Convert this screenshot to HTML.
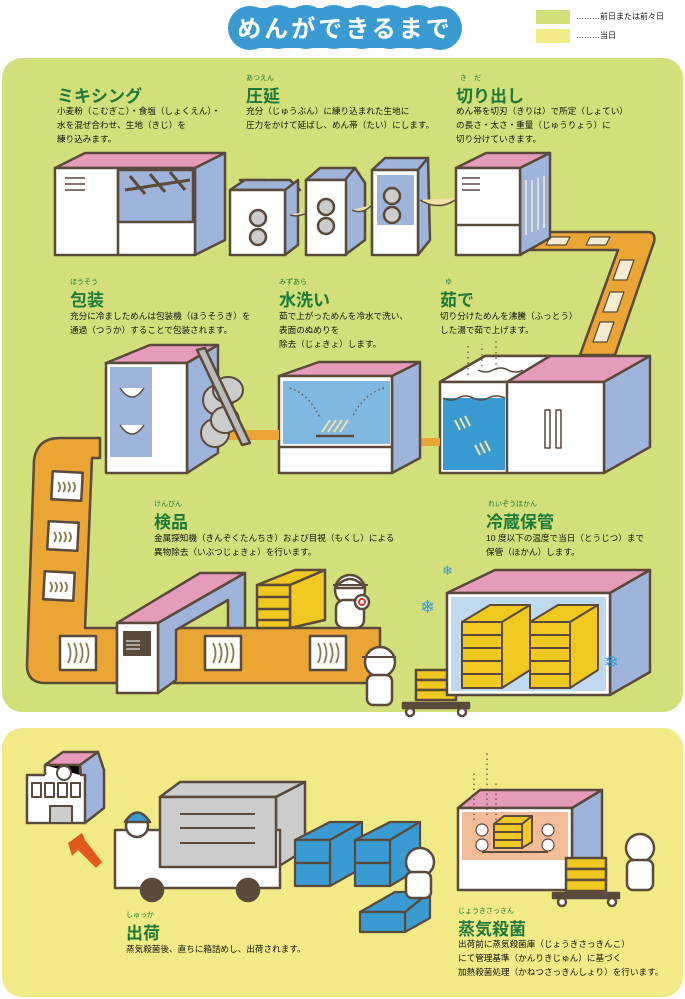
<!DOCTYPE html>
<html><head><meta charset="utf-8">
<style>
html,body{margin:0;padding:0;background:#fff;}
body{width:685px;height:999px;overflow:hidden;position:relative;font-family:"Liberation Sans","Noto Sans CJK JP",sans-serif;}
svg{position:absolute;left:0;top:0;}
.t{position:absolute;color:#111;font-size:8.6px;line-height:14px;white-space:nowrap;font-family:"Liberation Sans","Noto Sans CJK JP",sans-serif;}
.h{position:absolute;color:#1f7a3a;font-weight:bold;font-size:17px;white-space:nowrap;font-family:"Liberation Sans","Noto Sans CJK JP",sans-serif;}
.r{position:absolute;color:#1f7a3a;font-size:7px;white-space:nowrap;font-family:"Liberation Sans","Noto Sans CJK JP",sans-serif;}
</style></head><body>
<svg width="685" height="999" viewBox="0 0 685 999" xmlns="http://www.w3.org/2000/svg">
<g stroke="#5a4a3c" stroke-width="2.5" stroke-linejoin="round">
<rect x="2" y="58" width="681" height="654" rx="20" fill="#d3df7a" stroke="none"/>
<rect x="2" y="728" width="681" height="269" rx="20" fill="#f2ea86" stroke="none"/>
<g fill="#3a9bd2" stroke="none">
<circle cx="250" cy="28" r="22"/><circle cx="278" cy="27" r="22"/><circle cx="306" cy="27" r="22"/><circle cx="334" cy="27" r="22"/><circle cx="362" cy="27" r="22"/><circle cx="390" cy="27" r="22"/><circle cx="418" cy="27" r="22"/><circle cx="440" cy="28" r="22"/>
<rect x="250" y="8" width="190" height="40"/>
</g>
<text x="345" y="37" text-anchor="middle" fill="#fff" stroke="none" font-size="24" font-weight="bold" font-family="Liberation Sans, Noto Sans CJK JP, sans-serif" letter-spacing="3">めんができるまで</text>
<rect x="536" y="10" width="34" height="14" fill="#d3df7a" stroke="none"/>
<rect x="536" y="29" width="34" height="14" fill="#f2ea86" stroke="none"/>

<path d="M520 232 L648 232 Q656 232 654 242 L615 355 L580 355 L618 250 L520 250 Z" fill="#eaa535"/>
<g fill="#f4ecd2" stroke-width="1.2">
<path d="M550 237 l20 0 l-4 8 l-20 0z"/><path d="M590 237 l20 0 l-4 8 l-20 0z"/>
<path d="M620 260 l14 0 l-7 20 l-14 0z"/><path d="M610 292 l14 0 l-7 20 l-14 0z"/><path d="M600 322 l14 0 l-7 20 l-14 0z"/>
</g>

<path d="M55 168 L85 153 L225 153 L195 168 Z" fill="#e79bbb"/>
<path d="M195 168 L225 153 L225 240 L195 255 Z" fill="#9fb4db"/>
<rect x="55" y="168" width="140" height="87" fill="#fff"/>
<rect x="118" y="170" width="75" height="52" fill="#9fb4db"/>
<line x1="118" y1="168" x2="118" y2="255"/>
<line x1="65" y1="178" x2="85" y2="178" stroke-width="1.5"/><line x1="65" y1="184" x2="85" y2="184" stroke-width="1.5"/><line x1="65" y1="190" x2="85" y2="190" stroke-width="1.5"/>
<path d="M125 190 L190 180 M130 176 l15 18 M150 174 l15 18 M170 172 l15 18" stroke="#5a4a3c" fill="none" stroke-width="3"/>
<path d="M240 180 L265 180 L256 188 L250 188Z" fill="#ccc"/>
<path d="M230 190 L245 180 L290 180 L300 190Z" fill="#9fb4db"/>
<path d="M285 190 L298 180 L298 245 L285 255Z" fill="#9fb4db"/>
<rect x="230" y="190" width="55" height="65" fill="#fff"/>
<circle cx="258" cy="218" r="8" fill="#ccc"/><circle cx="258" cy="237" r="8" fill="#ccc"/>
<path d="M290 215 Q300 218 312 210" fill="#f4e0a8" stroke-width="1.5"/>
<path d="M306 180 L320 168 L355 168 L345 180Z" fill="#9fb4db"/>
<path d="M345 180 L355 168 L365 183 L365 240 L345 255Z" fill="#9fb4db"/>
<rect x="306" y="180" width="40" height="75" fill="#fff"/>
<circle cx="326" cy="207" r="8" fill="#ccc"/><circle cx="326" cy="226" r="8" fill="#ccc"/>
<path d="M352 210 Q362 215 372 205" fill="#f4e0a8" stroke-width="1.5"/>
<path d="M372 170 L385 158 L428 158 L418 170Z" fill="#9fb4db"/>
<path d="M418 170 L428 158 L430 240 L418 255Z" fill="#9fb4db"/>
<rect x="372" y="170" width="46" height="85" fill="#fff"/>
<rect x="377" y="175" width="37" height="50" fill="#9fb4db" stroke="none"/>
<circle cx="392" cy="196" r="8" fill="#ccc"/><circle cx="392" cy="215" r="8" fill="#ccc"/>
<path d="M420 200 Q440 212 458 198" fill="#f4e0a8" stroke-width="1.5"/>
<path d="M456 168 L486 153 L550 153 L520 168Z" fill="#e79bbb"/>
<path d="M520 168 L550 153 L550 238 L520 255Z" fill="#9fb4db"/>
<rect x="456" y="168" width="64" height="87" fill="#fff"/>
<line x1="462" y1="178" x2="480" y2="178" stroke-width="1.5"/><line x1="462" y1="184" x2="480" y2="184" stroke-width="1.5"/><line x1="462" y1="190" x2="480" y2="190" stroke-width="1.5"/>
<line x1="456" y1="225" x2="520" y2="225"/>
<g stroke="#f4ecd2" stroke-width="1.5"><line x1="526" y1="180" x2="526" y2="235"/><line x1="532" y1="180" x2="532" y2="232"/><line x1="538" y1="178" x2="538" y2="230"/><line x1="544" y1="176" x2="544" y2="228"/></g>

<path d="M440 382 L485 356 L650 356 L604 382Z" fill="#e79bbb"/>
<path d="M440 382 L485 356 L550 356 L507 382Z" fill="#fff"/>
<path d="M604 382 L650 356 L650 447 L604 473Z" fill="#9fb4db"/>
<rect x="440" y="382" width="164" height="91" fill="#fff"/>
<rect x="443" y="398" width="62" height="72" fill="#3a9bd2" stroke="none"/>
<path d="M443 398 q8 4 15 0 q8 -4 15 0 q8 4 15 0 q8 -4 17 0" fill="none" stroke-width="1.5"/>
<line x1="507" y1="382" x2="507" y2="473"/>
<rect x="545" y="410" width="5" height="38" fill="#fff" stroke-width="1.5"/><rect x="556" y="410" width="5" height="38" fill="#fff" stroke-width="1.5"/>
<g fill="none" stroke="#f4e0a8" stroke-width="2"><path d="M455 420 l5 10 M460 418 l5 10 M465 416 l5 10 M475 445 l5 10 M480 443 l5 10 M485 441 l5 10"/></g>
<path d="M478 370 q8 4 15 0 q8 -4 15 0 q8 4 15 0" fill="none" stroke-width="1.5"/>
<g fill="none" stroke-width="1.2" stroke-dasharray="1.5 4"><path d="M468 375 v-30"/><path d="M482 372 v-28"/><path d="M496 370 v-32"/></g>
<path d="M400 438 L440 438 L440 446 L396 446Z" fill="#eaa535" stroke="none"/>
<path d="M279 376 L319 362 L420 362 L392 376Z" fill="#e79bbb"/>
<path d="M392 376 L420 362 L420 458 L392 473Z" fill="#9fb4db"/>
<rect x="279" y="376" width="113" height="97" fill="#fff"/>
<rect x="283" y="381" width="107" height="63" fill="#7fb8e0" stroke="none"/>
<line x1="279" y1="447" x2="392" y2="447"/>
<line x1="316" y1="436" x2="354" y2="436"/>
<g fill="none" stroke-width="1.2" stroke-dasharray="1.5 3"><path d="M290 388 Q310 395 320 418"/><path d="M384 388 Q362 395 352 418"/></g>
<g fill="none" stroke="#f4e0a8" stroke-width="2"><path d="M322 432 l8 -12 M328 432 l8 -12 M334 432 l8 -12 M340 432 l8 -12"/></g>
<path d="M220 430 L279 430 L279 440 L220 440Z" fill="#eaa535" stroke="none"/>
<path d="M100 438 L60 438 Q37 438 34 460 L27 665 Q27 683 45 683 L380 683 L380 628 L85 628 L92 458 L100 458Z" fill="#eaa535"/>
<path d="M106 363 L150 345 L218 345 L187 363Z" fill="#e79bbb"/>
<path d="M187 363 L218 345 L218 453 L187 473Z" fill="#9fb4db"/>
<rect x="106" y="363" width="81" height="110" fill="#fff"/>
<rect x="110" y="367" width="42" height="90" fill="#9fb4db" stroke="none"/>
<path d="M120 388 q12 18 24 0 M120 425 q12 18 24 0" fill="#fff" stroke-width="1.5"/>
<g><ellipse cx="218" cy="400" rx="15" ry="15" fill="#ccc" stroke="#5a4a3c" stroke-width="2"/><ellipse cx="228" cy="390" rx="15" ry="13" fill="#ccc" stroke="#5a4a3c" stroke-width="2"/><ellipse cx="215" cy="433" rx="14" ry="14" fill="#ccc" stroke="#5a4a3c" stroke-width="2"/><ellipse cx="225" cy="420" rx="14" ry="13" fill="#ccc" stroke="#5a4a3c" stroke-width="2"/></g>
<path d="M197 350 L205 348 L250 443 L242 445Z" fill="#bbb"/>
<g fill="#fff" stroke-width="1.5"><rect x="52" y="445" width="22" height="10" transform="skewX(-20)"/></g>
<g fill="#fff" stroke-width="2.5">
<rect x="52" y="472" width="30" height="28" transform="rotate(3 67 486)"/>
<rect x="48" y="522" width="30" height="28" transform="rotate(3 63 536)"/>
<rect x="44" y="572" width="30" height="28" transform="rotate(3 59 586)"/>
<rect x="60" y="636" width="36" height="34"/>
<rect x="205" y="636" width="36" height="34"/>
<rect x="310" y="636" width="36" height="34"/>
</g>
<g fill="none" stroke="#8a7a50" stroke-width="1.8">
<path d="M58 482 q4 5 0 10 M63 482 q4 5 0 10 M68 482 q4 5 0 10 M73 482 q4 5 0 10"/>
<path d="M54 532 q4 5 0 10 M59 532 q4 5 0 10 M64 532 q4 5 0 10 M69 532 q4 5 0 10"/>
<path d="M50 582 q4 5 0 10 M55 582 q4 5 0 10 M60 582 q4 5 0 10 M65 582 q4 5 0 10"/>
<path d="M68 643 q5 10 0 20 M74 643 q5 10 0 20 M80 643 q5 10 0 20 M86 643 q5 10 0 20"/>
<path d="M213 643 q5 10 0 20 M219 643 q5 10 0 20 M225 643 q5 10 0 20 M231 643 q5 10 0 20"/>
<path d="M318 643 q5 10 0 20 M324 643 q5 10 0 20 M330 643 q5 10 0 20 M336 643 q5 10 0 20"/>
</g>
<path d="M117 623 L200 573 L245 573 L158 623Z" fill="#e79bbb"/>
<path d="M158 623 L245 573 L245 628 L228 628 L228 600 L176 630 L176 680 L158 693Z" fill="#9fb4db"/>
<rect x="117" y="623" width="41" height="70" fill="#fff"/>
<rect x="123" y="631" width="28" height="25" fill="#5a4a3c" stroke="none"/>
<g stroke="#fff" stroke-width="1"><line x1="126" y1="641" x2="140" y2="641"/><line x1="126" y1="645" x2="140" y2="645"/><line x1="126" y1="649" x2="140" y2="649"/></g>
<g fill="#f1c81f"><path d="M257 585 L295 570 L325 570 L290 585Z"/><path d="M290 585 L325 570 L325 620 L290 628Z"/><rect x="257" y="585" width="33" height="43"/><line x1="257" y1="597" x2="290" y2="597"/><line x1="257" y1="609" x2="290" y2="609"/><line x1="257" y1="620" x2="290" y2="620"/></g>
<g fill="#fff">
<circle cx="350" cy="590" r="15"/><path d="M335 588 Q350 570 365 588Z" fill="#fff"/><rect x="336" y="600" width="28" height="28" rx="8"/>
<circle cx="362" cy="602" r="7"/><circle cx="362" cy="602" r="3" stroke="#d33" stroke-width="2"/>
<circle cx="380" cy="662" r="15"/><rect x="367" y="675" width="25" height="30" rx="6"/>
</g>
<path d="M333 585 L368 585" stroke-width="2"/><path d="M362 657 L396 657" stroke-width="2"/>
<g fill="#f1c81f"><rect x="416" y="670" width="40" height="10"/><rect x="416" y="680" width="40" height="10"/><rect x="416" y="690" width="40" height="10"/></g>
<rect x="403" y="703" width="66" height="5" fill="#5a4a3c"/>
<circle cx="410" cy="712" r="4" fill="#fff"/><circle cx="462" cy="712" r="4" fill="#fff"/>
<path d="M447 593 L495 570 L650 570 L610 593Z" fill="#e79bbb"/>
<path d="M610 593 L650 570 L650 672 L610 695Z" fill="#9fb4db"/>
<rect x="447" y="593" width="163" height="102" fill="#fff"/>
<rect x="451" y="597" width="155" height="94" fill="#bfd9ee" stroke="none"/>
<g fill="#f1c81f" stroke-width="2">
<path d="M462 622 L490 605 L530 605 L502 622Z"/><path d="M502 622 L530 605 L530 670 L502 688Z"/><rect x="462" y="622" width="40" height="66"/>
<line x1="462" y1="635" x2="502" y2="635"/><line x1="462" y1="648" x2="502" y2="648"/><line x1="462" y1="661" x2="502" y2="661"/><line x1="462" y1="674" x2="502" y2="674"/>
<path d="M530 622 L558 605 L598 605 L570 622Z"/><path d="M570 622 L598 605 L598 670 L570 688Z"/><rect x="530" y="622" width="40" height="66"/>
<line x1="530" y1="635" x2="570" y2="635"/><line x1="530" y1="648" x2="570" y2="648"/><line x1="530" y1="661" x2="570" y2="661"/><line x1="530" y1="674" x2="570" y2="674"/>
</g>

<path d="M45 765 L63 752 L98 752 L80 765Z" fill="#e79bbb"/>
<path d="M80 765 L98 752 L104 770 L104 808 L85 823Z" fill="#9fb4db"/>
<rect x="27" y="775" width="58" height="48" fill="#fff"/><rect x="45" y="765" width="35" height="15" fill="#fff" stroke="none"/>
<path d="M45 765 L80 765 L80 775 M45 765 L45 775"/>
<circle cx="64" cy="773" r="7" fill="#fff" stroke-width="2"/>
<g fill="#fff" stroke-width="2"><rect x="32" y="783" width="9" height="14"/><rect x="45" y="783" width="9" height="14"/><rect x="58" y="783" width="9" height="14"/><rect x="71" y="783" width="9" height="14"/></g>
<rect x="50" y="806" width="22" height="17" fill="#ccc" stroke-width="2"/>
<path d="M68 843 L82 833 L85 840 L102 862 L96 868 L78 850 L72 856Z" fill="#e3581c" stroke="none"/>
<path d="M160 797 L180 782 L305 782 L276 797Z" fill="#ccc"/>
<path d="M276 797 L305 782 L305 850 L276 868Z" fill="#ccc"/>
<rect x="115" y="830" width="165" height="58" fill="#fff"/>
<rect x="160" y="797" width="116" height="70" fill="#ccc"/>
<g stroke-width="2"><line x1="180" y1="814" x2="255" y2="814"/><line x1="180" y1="828" x2="255" y2="828"/><line x1="180" y1="843" x2="255" y2="843"/></g>
<circle cx="137" cy="826" r="11" fill="#fff"/><path d="M125 822 Q137 803 150 822Z" fill="#3a9bd2"/>
<circle cx="152" cy="890" r="11" fill="#5a4a3c"/><circle cx="248" cy="890" r="11" fill="#5a4a3c"/>
<g fill="#3a9bd2" stroke-width="2.2">
<path d="M295 840 L330 822 L362 822 L330 840Z"/><path d="M330 840 L362 822 L362 868 L330 886Z"/><rect x="295" y="840" width="35" height="23"/><rect x="295" y="863" width="35" height="23"/>
<path d="M355 840 L390 822 L420 822 L390 840Z"/><path d="M390 840 L420 822 L420 868 L390 886Z"/><rect x="355" y="840" width="35" height="23"/><rect x="355" y="863" width="35" height="23"/>
<path d="M360 912 L395 892 L430 892 L405 912Z"/><path d="M405 912 L430 892 L430 918 L405 932Z"/><rect x="360" y="912" width="45" height="20"/>
</g>
<circle cx="420" cy="862" r="14" fill="#fff"/><rect x="406" y="872" width="25" height="26" rx="6" fill="#fff"/>
<path d="M458 808 L480 790 L602 790 L572 808Z" fill="#e79bbb"/>
<path d="M572 808 L602 790 L602 870 L572 890Z" fill="#9fb4db"/>
<rect x="458" y="808" width="114" height="82" fill="#fff"/>
<rect x="462" y="812" width="106" height="48" fill="#f2bc98" stroke="none"/>
<g fill="#f1c81f" stroke-width="2"><path d="M494 824 L504 816 L532 816 L522 824Z"/><path d="M522 824 L532 816 L532 842 L522 848Z"/><rect x="494" y="824" width="28" height="24"/><line x1="494" y1="832" x2="522" y2="832"/><line x1="494" y1="840" x2="522" y2="840"/></g>
<line x1="482" y1="852" x2="548" y2="852" stroke-width="2"/>
<g fill="#fff" stroke-width="1.2"><circle cx="482" cy="830" r="6"/><circle cx="482" cy="845" r="6"/><circle cx="548" cy="830" r="6"/><circle cx="548" cy="845" r="6"/></g>
<g fill="none" stroke-width="1.2" stroke-dasharray="1.5 3.5"><path d="M474 820 v-50"/><path d="M487 815 v-65"/><path d="M496 820 v-40"/></g>
<g fill="#f1c81f"><rect x="566" y="858" width="40" height="11"/><rect x="566" y="869" width="40" height="11"/><rect x="566" y="880" width="40" height="11"/></g>
<rect x="553" y="893" width="66" height="5" fill="#5a4a3c"/>
<circle cx="562" cy="902" r="4" fill="#fff"/><circle cx="612" cy="902" r="4" fill="#fff"/>
<circle cx="640" cy="848" r="14" fill="#fff"/><rect x="627" y="860" width="26" height="30" rx="6" fill="#fff"/>
</g>
<g fill="#3a9bd2" font-size="18" font-family="DejaVu Sans, sans-serif"><text x="420" y="613">❄</text><text x="442" y="575" font-size="13">❄</text><text x="604" y="668">❄</text></g>
</svg>

<div class="t" style="left:576px;top:10px;font-size:8px;">………前日または前々日</div>
<div class="t" style="left:576px;top:29px;font-size:8px;">………当日</div>

<div class="h" style="left:57px;top:82px;">ミキシング</div>
<div class="t" style="left:57px;top:104px;">小麦粉（こむぎこ）・食塩（しょくえん）・<br>水を混ぜ合わせ、生地（きじ）を<br>練り込みます。</div>
<div class="r" style="left:246px;top:73px;">あつえん</div>
<div class="h" style="left:246px;top:82px;">圧延</div>
<div class="t" style="left:246px;top:104px;">充分（じゅうぶん）に練り込まれた生地に<br>圧力をかけて延ばし、めん帯（たい）にします。</div>
<div class="r" style="left:460px;top:73px;">き　だ</div>
<div class="h" style="left:456px;top:82px;">切り出し</div>
<div class="t" style="left:456px;top:104px;">めん帯を切刃（きりは）で所定（しょてい）<br>の長さ・太さ・重量（じゅうりょう）に<br>切り分けていきます。</div>

<div class="r" style="left:70px;top:277px;">ほうそう</div>
<div class="h" style="left:70px;top:286px;">包装</div>
<div class="t" style="left:70px;top:309px;">充分に冷ましためんは包装機（ほうそうき）を<br>通過（つうか）することで包装されます。</div>
<div class="r" style="left:279px;top:277px;">みずあら</div>
<div class="h" style="left:279px;top:286px;">水洗い</div>
<div class="t" style="left:279px;top:309px;">茹で上がっためんを冷水で洗い、<br>表面のぬめりを<br>除去（じょきょ）します。</div>
<div class="r" style="left:445px;top:277px;">ゆ</div>
<div class="h" style="left:440px;top:286px;">茹で</div>
<div class="t" style="left:440px;top:309px;">切り分けためんを沸騰（ふっとう）<br>した湯で茹で上げます。</div>

<div class="r" style="left:154px;top:499px;">けんぴん</div>
<div class="h" style="left:154px;top:508px;">検品</div>
<div class="t" style="left:154px;top:531px;">金属探知機（きんぞくたんちき）および目視（もくし）による<br>異物除去（いぶつじょきょ）を行います。</div>
<div class="r" style="left:488px;top:499px;">れいぞうほかん</div>
<div class="h" style="left:486px;top:508px;">冷蔵保管</div>
<div class="t" style="left:486px;top:531px;">10 度以下の温度で当日（とうじつ）まで<br>保管（ほかん）します。</div>

<div class="r" style="left:126px;top:910px;">しゅっか</div>
<div class="h" style="left:126px;top:919px;">出荷</div>
<div class="t" style="left:126px;top:942px;">蒸気殺菌後、直ちに箱詰めし、出荷されます。</div>
<div class="r" style="left:458px;top:906px;">じょうきさっきん</div>
<div class="h" style="left:458px;top:915px;">蒸気殺菌</div>
<div class="t" style="left:458px;top:937px;">出荷前に蒸気殺菌庫（じょうきさっきんこ）<br>にて管理基準（かんりきじゅん）に基づく<br>加熱殺菌処理（かねつさっきんしょり）を行います。</div>
</body></html>
